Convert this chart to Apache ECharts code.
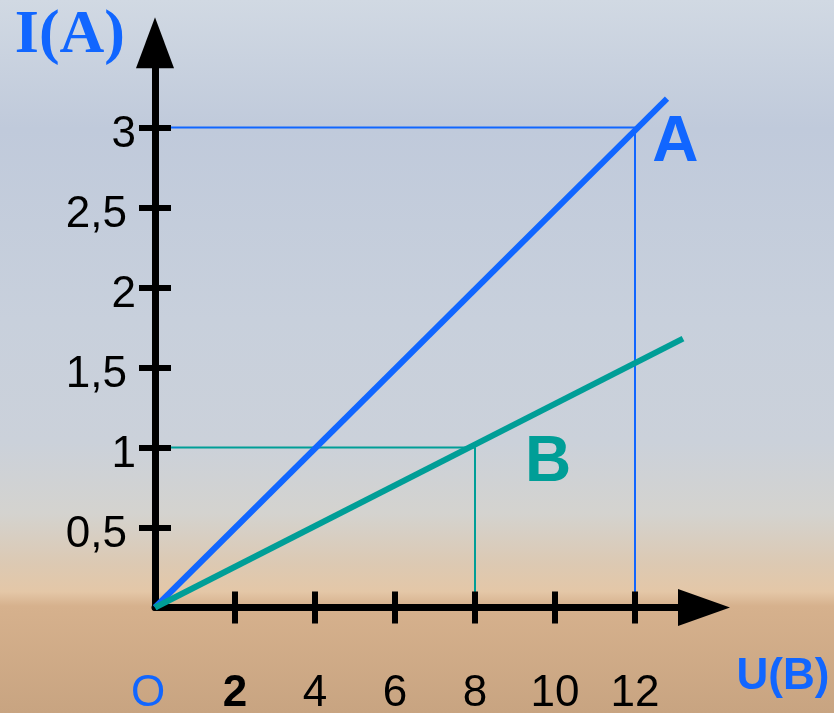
<!DOCTYPE html>
<html>
<head>
<meta charset="utf-8">
<script src="https://cdn.jsdelivr.net/npm/echarts@6/dist/echarts.min.js"></script>
<style>
  html, body { margin: 0; padding: 0; }
  #chart { width: 834px; height: 713px; }
</style>
</head>
<body>
<div id="chart"></div>
<script>
// data
var lineA = [[0, 0], [12.8, 3.18]];
var lineB = [[0, 0], [13.2, 1.68]];
var guideA = [[0, 3], [12, 3], [12, 0]];
var guideB = [[0, 1], [8, 1], [8, 0]];
var xTicks = [2, 4, 6, 8, 10, 12];
var xLabels = [0, 2, 4, 6, 8, 10, 12];
var yTicks = [0.5, 1, 1.5, 2, 2.5, 3];
var seriesNames = ['A', 'B'];

(function() {
  var blue = '#1166ff';
  var teal = '#009e97';
  var ink = '#000';
  var sans = '"Liberation Sans", Arial, sans-serif';
  var serif = '"Liberation Serif", "Times New Roman", serif';
  var xMax = 13.725, yMax = 3.53;

  var gridBox = { left: 155, right: 130, top: 42.7, bottom: 105.5, outerBoundsMode: 'none' };

  var chart = echarts.init(document.getElementById('chart'), null, { renderer: 'canvas' });
  chart.setOption({
    animation: false,
    backgroundColor: {
      type: 'linear', x: 0, y: 0, x2: 0, y2: 1,
      colorStops: [
        { offset: 0, color: '#d1d9e3' },
        { offset: 0.18, color: '#c0cadb' },
        { offset: 0.45, color: '#c8d0dc' },
        { offset: 0.62, color: '#cbd1da' },
        { offset: 0.72, color: '#d4d3cf' },
        { offset: 0.79, color: '#dcc9b3' },
        { offset: 0.83, color: '#e4c7a7' },
        { offset: 0.85, color: '#d6b18d' },
        { offset: 1, color: '#c8a481' }
      ]
    },
    grid: [gridBox, gridBox],
    xAxis: [{
      gridIndex: 0,
      type: 'value',
      min: 0,
      max: xMax,
      z: 1,
      name: 'U(B)',
      nameLocation: 'end',
      nameGap: 79,
      nameTextStyle: {
        color: blue, fontFamily: sans, fontWeight: 'bold', fontSize: 44,
        align: 'center', verticalAlign: 'top', padding: [47, 0, 0, 0]
      },
      axisLine: {
        show: true,
        symbol: ['none', 'triangle'],
        symbolSize: [37, 52],
        lineStyle: { color: ink, width: 7 }
      },
      axisTick: {
        show: true, customValues: xTicks, length: 16, inside: false,
        lineStyle: { color: ink, width: 6 }
      },
      axisLabel: {
        customValues: xLabels,
        margin: 64,
        color: ink, fontFamily: sans, fontSize: 44,
        formatter: function(v) {
          if (v === 0) return '{o|O}';
          if (v === 2) return '{b|2}';
          return '{n|' + v + '}';
        },
        rich: {
          o: { color: blue, fontFamily: sans, fontSize: 44, padding: [0, 14, 0, 0] },
          b: { color: ink, fontFamily: sans, fontSize: 44, fontWeight: 'bold' },
          n: { color: ink, fontFamily: sans, fontSize: 44 }
        }
      },
      splitLine: { show: false }
    }, {
      gridIndex: 1,
      type: 'value',
      min: 0,
      max: xMax,
      z: 1,
      axisLine: { show: false },
      axisTick: {
        show: true, customValues: xTicks, length: 16, inside: true,
        lineStyle: { color: ink, width: 6 }
      },
      axisLabel: { show: false },
      splitLine: { show: false }
    }],
    yAxis: [{
      gridIndex: 0,
      type: 'value',
      min: 0,
      max: yMax,
      z: 1,
      name: 'I(A)',
      nameLocation: 'end',
      nameGap: 7,
      nameTextStyle: {
        color: blue, fontFamily: serif, fontWeight: 'bold', fontSize: 62,
        align: 'right', verticalAlign: 'middle', padding: [0, 30, 0, 0]
      },
      axisLine: {
        show: true,
        symbol: ['none', 'triangle'],
        symbolSize: [38, 51],
        lineStyle: { color: ink, width: 7 }
      },
      axisTick: {
        show: true, customValues: yTicks, length: 16, inside: false,
        lineStyle: { color: ink, width: 6 }
      },
      axisLabel: {
        customValues: yTicks,
        margin: 19,
        padding: [14, 0, 0, 0],
        color: ink, fontFamily: sans, fontSize: 44,
        formatter: function(v) {
          var s = String(v).replace('.', ',');
          return s.length > 1 ? '{c|' + s + '}' : '{s|' + s + '}';
        },
        rich: {
          c: { color: ink, fontFamily: sans, fontSize: 44, padding: [0, 9, 0, 0] },
          s: { color: ink, fontFamily: sans, fontSize: 44 }
        }
      },
      splitLine: { show: false }
    }, {
      gridIndex: 1,
      type: 'value',
      min: 0,
      max: yMax,
      z: 1,
      axisLine: { show: false },
      axisTick: {
        show: true, customValues: yTicks, length: 16, inside: true,
        lineStyle: { color: ink, width: 6 }
      },
      axisLabel: { show: false },
      splitLine: { show: false }
    }],
    series: [{
      type: 'line',
      z: 0,
      data: guideA,
      symbol: 'none',
      silent: true,
      lineStyle: { color: blue, width: 2 }
    }, {
      type: 'line',
      z: 0,
      data: guideB,
      symbol: 'none',
      silent: true,
      lineStyle: { color: teal, width: 2 }
    }, {
      name: seriesNames[0],
      type: 'line',
      z: 3,
      data: lineA,
      symbol: 'none',
      lineStyle: { color: blue, width: 6, cap: 'butt' },
      markPoint: {
        symbol: 'circle',
        symbolSize: 0,
        data: [{ coord: [13.01, 2.9] }],
        label: {
          show: true, position: 'inside',
          formatter: function(p) { return p.seriesName; },
          color: blue, fontFamily: sans, fontWeight: 'bold', fontSize: 64
        }
      }
    }, {
      name: seriesNames[1],
      type: 'line',
      z: 3,
      data: lineB,
      symbol: 'none',
      lineStyle: { color: teal, width: 6, cap: 'butt' },
      markPoint: {
        symbol: 'circle',
        symbolSize: 0,
        data: [{ coord: [9.83, 0.9] }],
        label: {
          show: true, position: 'inside',
          formatter: function(p) { return p.seriesName; },
          color: teal, fontFamily: sans, fontWeight: 'bold', fontSize: 64
        }
      }
    }]
  });
  window.addEventListener('resize', function() { chart.resize(); });
})();
</script>
</body>
</html>
